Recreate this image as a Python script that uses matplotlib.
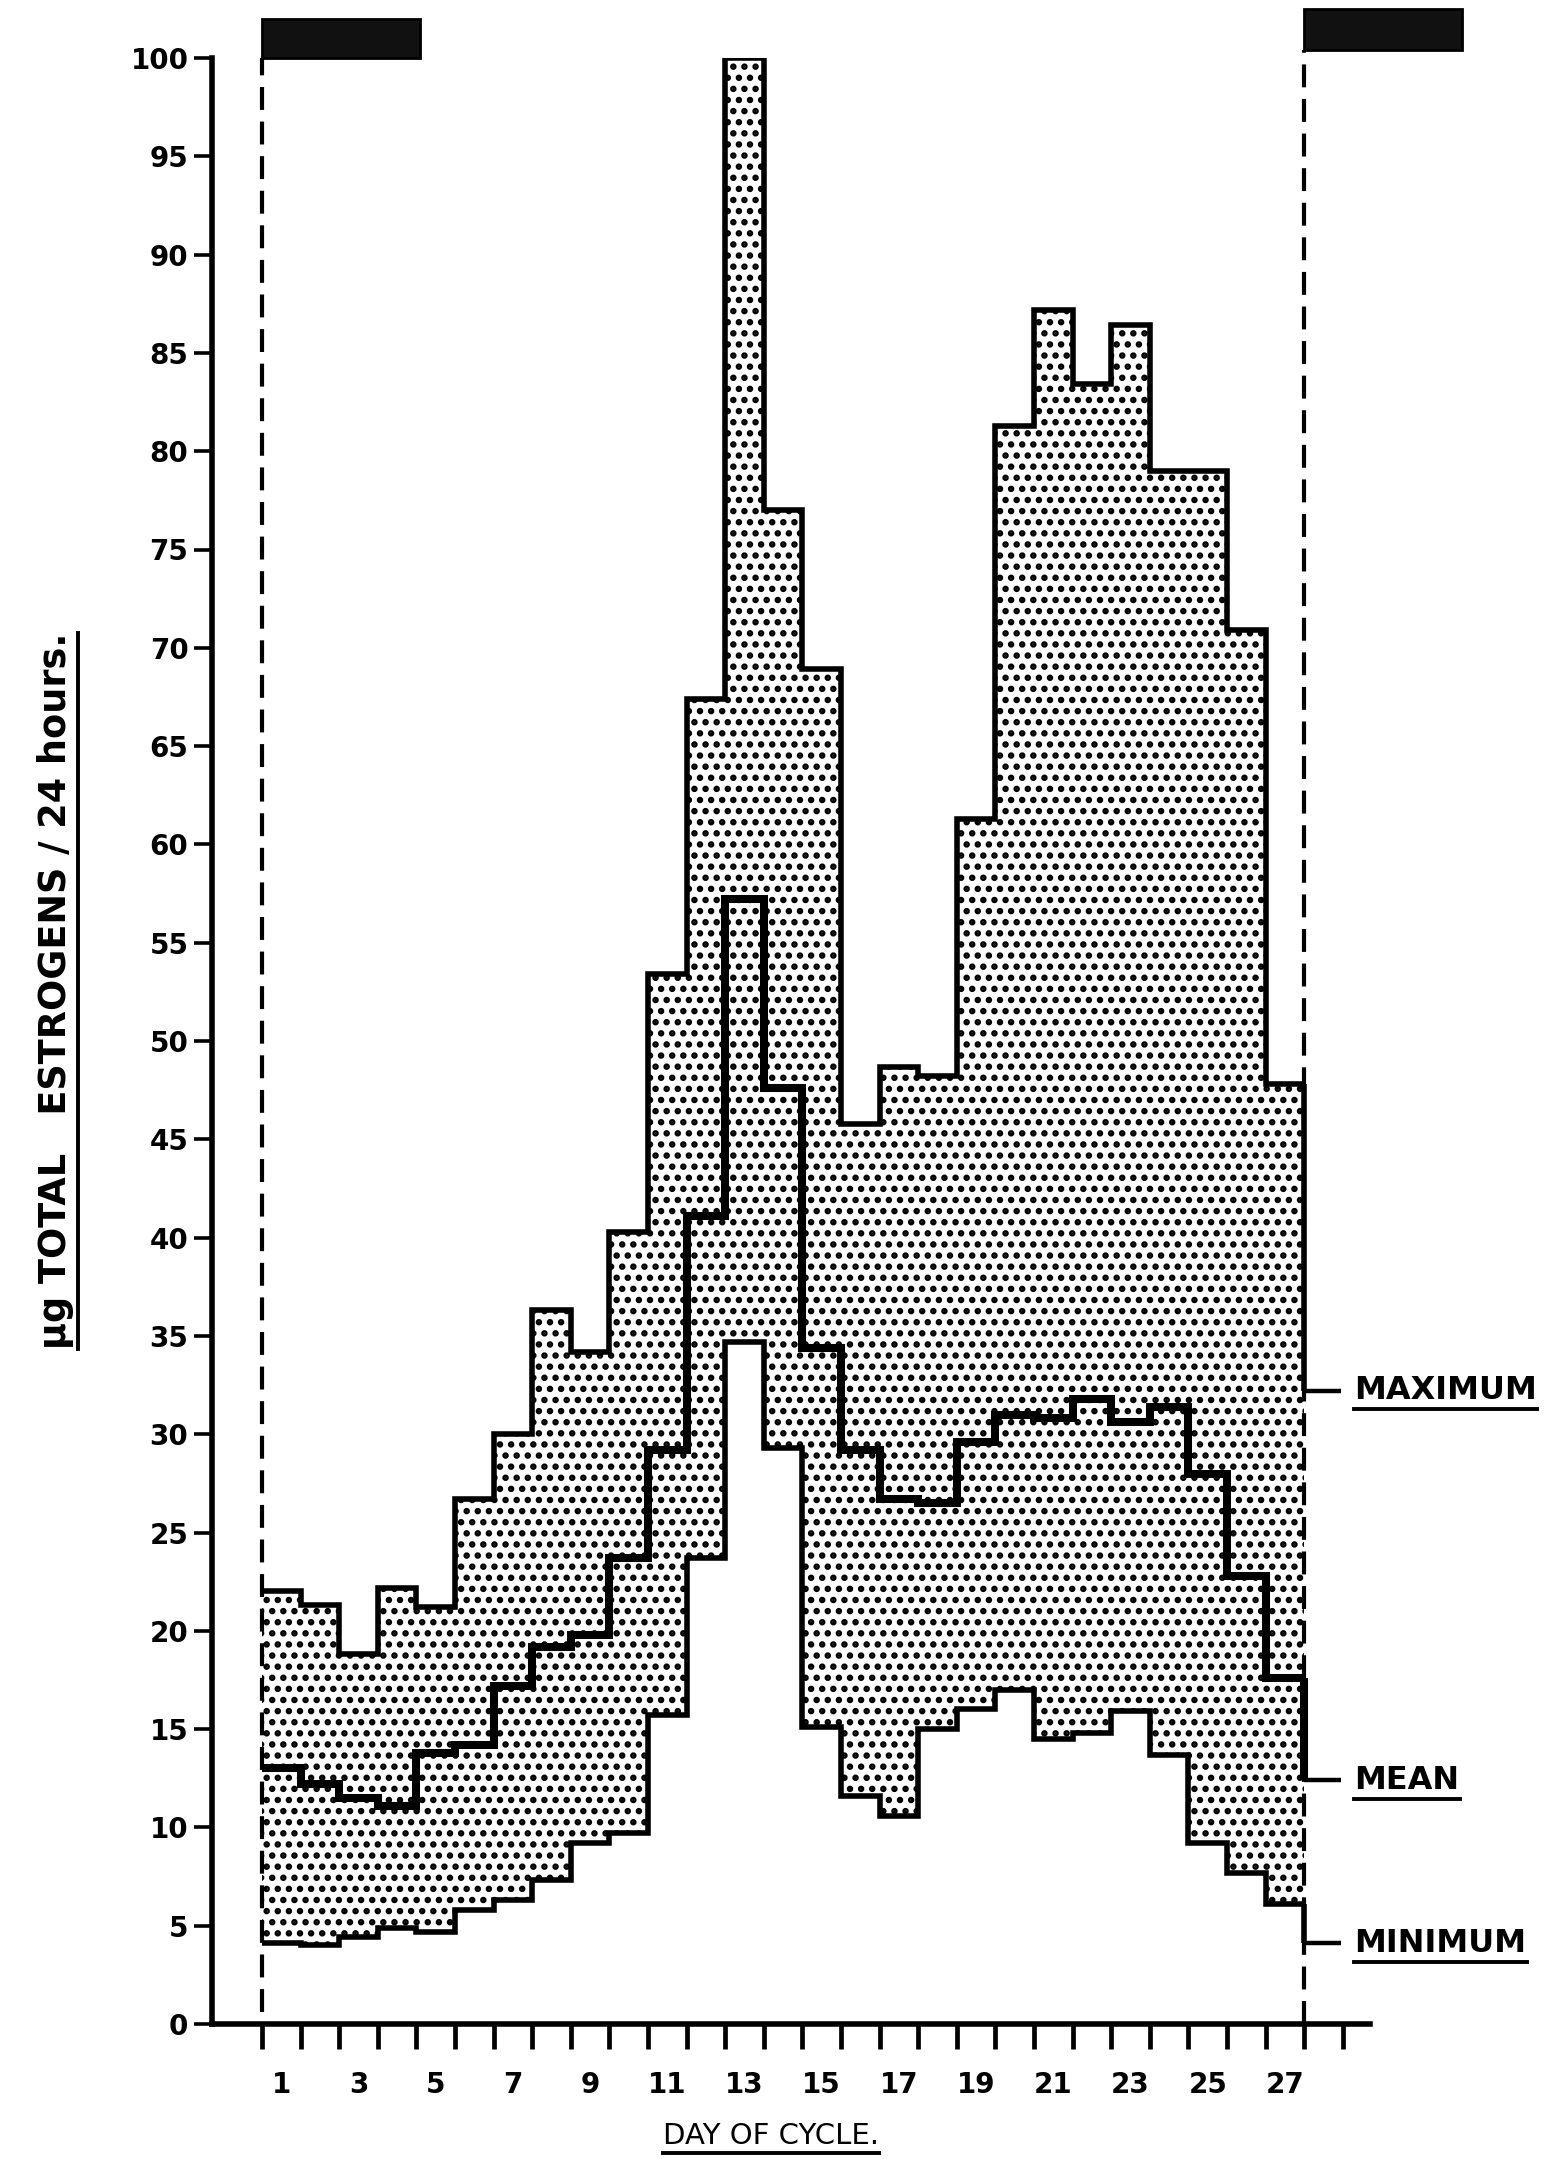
import matplotlib
matplotlib.use('Agg')
import matplotlib.pyplot as plt
import numpy as np
from matplotlib.patches import Rectangle
from matplotlib.lines import Line2D

# ---------------- data ----------------
days = list(range(1, 28))
maximum = [22.0, 21.3, 18.8, 22.2, 21.2, 26.7, 30.0, 36.3, 34.2, 40.3, 53.4, 67.4,
           100.0, 77.0, 68.9, 45.8, 48.7, 48.2, 61.3, 81.3, 87.2, 83.4, 86.4, 79.0,
           79.0, 70.9, 47.8]
mean = [13.0, 12.2, 11.5, 11.1, 13.8, 14.2, 17.2, 19.2, 19.8, 23.7, 29.2, 41.1,
        57.2, 47.6, 34.4, 29.2, 26.7, 26.5, 29.6, 31.0, 30.8, 31.8, 30.6, 31.4,
        28.0, 22.8, 17.6]
minimum = [4.1, 4.0, 4.4, 4.9, 4.7, 5.8, 6.3, 7.3, 9.2, 9.7, 15.7, 23.7, 34.7,
           29.3, 15.1, 11.6, 10.6, 15.0, 16.0, 17.0, 14.5, 14.8, 15.9, 13.7, 9.2,
           7.7, 6.1]
y_ticks = list(range(0, 101, 5))
x_label_days = list(range(1, 28, 2))
series_labels = ["MAXIMUM", "MEAN", "MINIMUM"]
label_levels = [32.2, 12.4, 4.1]
ylabel_text = "µg TOTAL   ESTROGENS / 24 hours."
xlabel_text = "DAY OF CYCLE."

# ---------------- style ----------------
FONT = ['DejaVu Sans']
plt.rcParams['font.family'] = FONT
plt.rcParams['hatch.linewidth'] = 1.5
plt.rcParams['hatch.color'] = 'black'

W, H, DPI = 1556, 2159, 200
fig = plt.figure(figsize=(W / DPI, H / DPI), dpi=DPI)

# axes placement in pixels
ax_left, ax_right = 212, 1370
ax_bottom, ax_top = 2024, 58
ax = fig.add_axes([ax_left / W, 1 - ax_bottom / H,
                   (ax_right - ax_left) / W, (ax_bottom - ax_top) / H])

x0_px, dx_px = 262, 38.6
xmin = (ax_left - x0_px) / dx_px
xmax = (ax_right - x0_px) / dx_px
ax.set_xlim(xmin, xmax)
ax.set_ylim(0, 100)

edges = np.arange(0, len(days) + 1)

# stippled band between minimum and maximum
ax.stairs(maximum, edges, baseline=minimum, fill=True, facecolor='white',
          edgecolor='black', linewidth=0, hatch='...', zorder=1)

# outlines
ax.stairs(maximum, edges, baseline=None, color='black', linewidth=2.0, zorder=3)
ax.stairs(minimum, edges, baseline=None, color='black', linewidth=2.0, zorder=3)
ax.stairs(mean, edges, baseline=None, color='black', linewidth=2.9, zorder=4)

# leaders to the right-hand labels
ends = [maximum[-1], mean[-1], minimum[-1]]
x_end = edges[-1]
for lab, lev, e, lw in zip(series_labels, label_levels, ends, [2.0, 2.9, 2.0]):
    ax.plot([x_end, x_end], [e, lev], color='black', lw=lw, solid_capstyle='butt',
            zorder=4, clip_on=False)
    ax.plot([x_end, x_end + 0.95], [lev, lev], color='black', lw=1.6,
            solid_capstyle='butt', zorder=4, clip_on=False)

# dashed cycle boundaries
dash = (0, (5.5, 2.8))
ax.plot([0, 0], [0.6, 100], color='black', lw=1.5, ls=dash, zorder=5, clip_on=False)
ax.plot([x_end, x_end], [0, 100.4], color='black', lw=1.5, ls=dash, zorder=5,
        clip_on=False)

# menstruation bars
ax.add_patch(Rectangle((0, 100.0), 4.1, 2.0, facecolor='#111111', edgecolor='black',
                       lw=1, clip_on=False, zorder=5))
ax.add_patch(Rectangle((x_end, 100.4), 4.1, 2.1, facecolor='#111111', edgecolor='black',
                       lw=1, clip_on=False, zorder=5))

# spines
for s in ['top', 'right']:
    ax.spines[s].set_visible(False)
ax.spines['left'].set_bounds(0, 100)
ax.spines['left'].set_linewidth(2.0)
ax.spines['bottom'].set_linewidth(2.0)

# y ticks
ax.set_yticks(y_ticks)
ax.set_yticklabels([str(v) for v in y_ticks])
ax.tick_params(axis='y', direction='out', length=6.5, width=1.3, pad=2,
               labelsize=10)
for t in ax.get_yticklabels():
    t.set_fontweight('bold')

# x ticks: boundaries (major) and day labels (minor)
ax.set_xticks(np.arange(0, 29))
ax.set_xticklabels([])
ax.tick_params(axis='x', which='major', direction='out', length=9, width=1.7)
ax.set_xticks([d - 0.5 for d in x_label_days], minor=True)
ax.set_xticklabels([str(d) for d in x_label_days], minor=True)
ax.tick_params(axis='x', which='minor', length=0, pad=17, labelsize=10)
for t in ax.get_xticklabels(minor=True):
    t.set_fontweight('bold')

# texts
txts = []
for lab, lev in zip(series_labels, label_levels):
    t = ax.text(x_end + 1.3, lev, lab, ha='left', va='center', fontsize=11.5,
                fontweight='bold', clip_on=False)
    txts.append(t)

xl = fig.text(771 / W, 1 - 2136 / H, xlabel_text, ha='center', va='center',
              fontsize=10.5)
yl = fig.text(56 / W, 1 - 991 / H, ylabel_text, ha='center', va='center',
              rotation=90, fontsize=13.2, fontweight='bold')

fig.canvas.draw()
r = fig.canvas.get_renderer()


def hline_px(x1, x2, y, lw):
    fig.add_artist(Line2D([x1 / fig.bbox.width, x2 / fig.bbox.width],
                          [y / fig.bbox.height, y / fig.bbox.height],
                          transform=fig.transFigure, color='black', lw=lw))


def vline_px(x, y1, y2, lw):
    fig.add_artist(Line2D([x / fig.bbox.width, x / fig.bbox.width],
                          [y1 / fig.bbox.height, y2 / fig.bbox.height],
                          transform=fig.transFigure, color='black', lw=lw))


for t in txts:
    bb = t.get_window_extent(r)
    hline_px(bb.x0, bb.x1, bb.y0 - 3, 1.4)
bb = xl.get_window_extent(r)
hline_px(bb.x0, bb.x1, bb.y0 - 3, 1.4)
bb = yl.get_window_extent(r)
vline_px(bb.x1 + 3, bb.y0, bb.y1, 1.4)

fig.savefig('out.png', dpi=DPI, facecolor='white')
